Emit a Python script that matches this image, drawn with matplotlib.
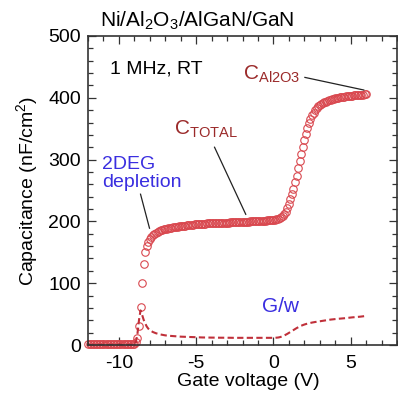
import numpy as np
import matplotlib
matplotlib.use('Agg')
import matplotlib.pyplot as plt

plt.rcParams['font.family'] = ['Liberation Sans', 'DejaVu Sans']
plt.rcParams['mathtext.fontset'] = 'custom'
plt.rcParams['mathtext.rm'] = 'Liberation Sans'
plt.rcParams['mathtext.it'] = 'Liberation Sans:italic'
plt.rcParams['mathtext.bf'] = 'Liberation Sans:bold'
plt.rcParams['axes.unicode_minus'] = False

# gate voltage sweep, -12 V to 6 V in 0.1 V steps
gate_v = np.round(np.arange(-12.0, 6.01, 0.1), 1)

# capacitance (nF/cm2), one row per volt
cap = [
    1, 1, 1, 1, 1, 1, 1, 1, 1, 1,                                   # -12
    1, 1, 1, 1, 1, 1, 1, 1, 1, 1,                                   # -11
    1, 1, 1, 1, 1, 1, 1, 1, 1, 1.5,                                 # -10
    2, 5, 11, 30, 61, 101, 131, 150, 160, 167,                      # -9
    172, 175.5, 178, 180, 182, 183.5, 184.5, 185.5, 186.5, 187.5,   # -8
    188, 188.5, 189, 189.5, 190, 190.5, 191, 191.3, 191.6, 192,     # -7
    192.3, 192.6, 192.9, 193.2, 193.5, 193.8, 194.1, 194.4, 194.7, 195,  # -6
    195.3, 195.5, 195.7, 195.9, 196.1, 196.3, 196.5, 196.7, 196.9, 197,  # -5
    197.1, 197.2, 197.3, 197.4, 197.5, 197.6, 197.7, 197.8, 197.9, 198,  # -4
    198.1, 198.2, 198.3, 198.4, 198.5, 198.6, 198.7, 198.8, 198.9, 199,  # -3
    199.2, 199.3, 199.5, 199.6, 199.8, 199.9, 200.1, 200.2, 200.4, 200.5,  # -2
    200.7, 200.8, 201, 201.1, 201.3, 201.4, 201.6, 201.7, 201.9, 202,  # -1
    202.3, 202.8, 203.5, 204.5, 206, 207.5, 209.5, 212, 216, 221,   # 0
    228, 236, 244, 253, 263, 274, 286, 297, 309, 321,               # 1
    332, 342, 351, 359, 366, 371.5, 376, 380, 383, 386,             # 2
    388, 390, 391.5, 393, 394, 395, 396, 397, 397.8, 398.5,         # 3
    399.2, 399.8, 400.3, 400.8, 401.2, 401.6, 402, 402.4, 402.8, 403.1,  # 4
    403.4, 403.7, 404, 404.2, 404.4, 404.6, 404.8, 405, 405.2, 405.4,    # 5
    405.6,                                                          # 6
]

# G/w (same units), one row per volt
gw = [
    0.5, 0.5, 0.5, 0.5, 0.5, 0.5, 0.5, 0.5, 0.5, 0.5,               # -12
    0.5, 0.5, 0.5, 0.5, 0.5, 0.5, 0.5, 0.5, 0.5, 0.5,               # -11
    0.5, 0.5, 0.5, 0.5, 0.5, 0.5, 0.5, 0.5, 0.5, 0.7,               # -10
    1, 5, 18, 40, 56, 49, 41, 35, 30, 26.5,                         # -9
    24, 22.5, 21, 20, 19, 18.3, 17.6, 17, 16.5, 16,                 # -8
    15.6, 15.3, 15, 14.8, 14.6, 14.4, 14.2, 14, 13.8, 13.6,         # -7
    13.5, 13.4, 13.3, 13.2, 13.1, 13, 12.9, 12.8, 12.7, 12.6,       # -6
    12.5, 12.4, 12.3, 12.3, 12.2, 12.2, 12.1, 12.1, 12, 12,         # -5
    12, 11.9, 11.9, 11.9, 11.8, 11.8, 11.8, 11.8, 11.7, 11.7,       # -4
    11.7, 11.7, 11.7, 11.6, 11.6, 11.6, 11.6, 11.6, 11.6, 11.6,     # -3
    11.5, 11.5, 11.5, 11.5, 11.5, 11.5, 11.5, 11.5, 11.5, 11.5,     # -2
    11.5, 11.5, 11.5, 11.5, 11.5, 11.5, 11.5, 11.5, 11.5, 11.5,     # -1
    11.5, 11.6, 11.8, 12.1, 12.6, 13.3, 14.2, 15.3, 16.6, 18,       # 0
    19.5, 21, 22.6, 24.2, 25.8, 27.3, 28.7, 30, 31.2, 32.2,         # 1
    33.1, 33.9, 34.6, 35.2, 35.8, 36.3, 36.8, 37.2, 37.6, 38,       # 2
    38.4, 38.8, 39.2, 39.6, 40, 40.5, 40.8, 41.1, 41.4, 41.7,       # 3
    42, 42.2, 42.4, 42.6, 42.8, 43, 43.3, 43.6, 43.9, 44.2,         # 4
    44.5, 44.7, 44.9, 45.1, 45.3, 45.5, 45.8, 46.1, 46.4, 46.7,     # 5
    47,                                                             # 6
]

fig = plt.figure(figsize=(3.98, 3.96), dpi=100)
ax = fig.add_axes([88 / 398, 1 - 345 / 396, 309 / 398, 309 / 396])

ax.plot(gate_v, cap, 'o', mfc='none', mec='#d9484f', ms=5.4, mew=0.8, clip_on=False)
ax.plot(gate_v, gw, color='#c0303a', lw=1.5, ls=(0, (3, 1.6)), clip_on=False)

ax.set_xlim(-12, 8)
ax.set_ylim(0, 500)
ax.set_xticks([-10, -5, 0, 5])
ax.set_xticks(np.arange(-12, 9, 1), minor=True)
ax.set_yticks([0, 100, 200, 300, 400, 500])
ax.set_yticks(np.arange(0, 501, 20), minor=True)
ax.tick_params(which='both', direction='in', top=True, right=True, labelsize=14, width=0.9, color='#333333')
ax.tick_params(which='major', length=6)
ax.tick_params(which='minor', length=3.5)
ax.tick_params(axis='y', pad=5)
ax.tick_params(axis='x', pad=7)
for s in ax.spines.values():
    s.set_linewidth(1.2)
    s.set_color('#333333')

ax.set_xlabel('Gate voltage (V)', fontsize=14)
ax.xaxis.set_label_coords(0.518, -0.09)
ax.set_ylabel('Capacitance (nF/cm$^2$)', fontsize=14, labelpad=6)

fig.text(100 / 398, 1 - 26.7 / 396, 'Ni/Al$_2$O$_3$/AlGaN/GaN', fontsize=15, ha='left', va='baseline')

ax.text(-10.58, 440, '1 MHz, RT', fontsize=14, ha='left', va='baseline')
ax.text(-11.1, 285, '2DEG', fontsize=14, color='#3a2ee0', ha='left', va='baseline')
ax.text(-11.1, 256, 'depletion', fontsize=14, color='#3a2ee0', ha='left', va='baseline')
ax.text(-6.45, 340, r'C$_{\mathrm{TOTAL}}$', fontsize=15, color='#9b2a2a', ha='left', va='baseline')
ax.text(-1.94, 429, r'C$_{\mathrm{Al2O3}}$', fontsize=15, color='#9b2a2a', ha='left', va='baseline')
ax.text(-0.77, 53, 'G/w', fontsize=15, color='#3a2ee0', ha='left', va='baseline')

# pointer lines
ax.plot([-8.6, -8.02], [244, 189], color='#222222', lw=0.9)
ax.plot([-3.81, -1.79], [320, 211.5], color='#222222', lw=0.9)
ax.plot([2.04, 5.85], [433, 412.6], color='#222222', lw=0.9)

fig.savefig('out.png', dpi=100)
print("Plot saved as out.png")
